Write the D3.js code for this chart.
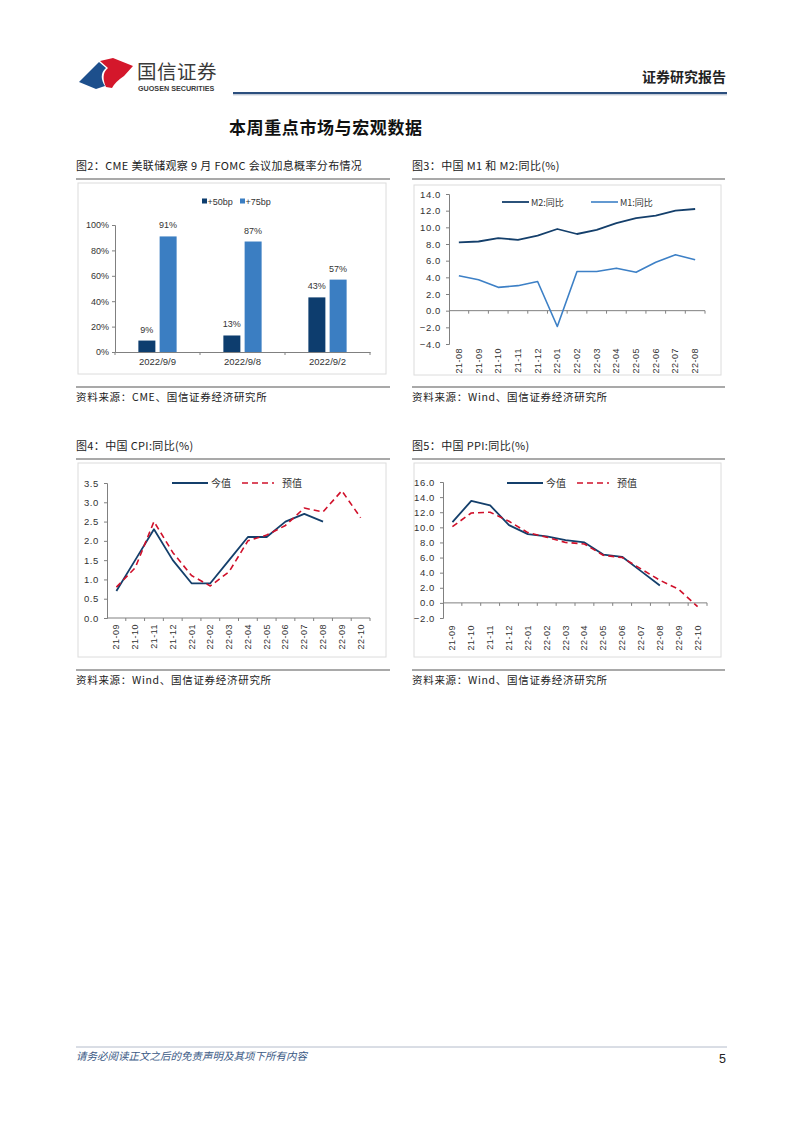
<!DOCTYPE html>
<html><head><meta charset="utf-8">
<script src="https://cdn.jsdelivr.net/npm/d3@7"></script>
<style>
body{margin:0;background:#fff;}
svg text{font-family:"Liberation Sans",Arial,sans-serif;}
.cn{font-family:"Noto Sans CJK SC","Liberation Sans",sans-serif;}
</style></head>
<body>
<svg id="page" width="802" height="1133"></svg>
<script>
// ---------------- DATA ----------------
const fomcDates = ["2022/9/9","2022/9/8","2022/9/2"];
const fomcSeries = ["+50bp","+75bp"];
const fomc50 = [9,13,43];
const fomc75 = [91,87,57];
const fomcTicks = [0,20,40,60,80,100];

const mMonths = ["21-08","21-09","21-10","21-11","21-12","22-01","22-02","22-03","22-04","22-05","22-06","22-07","22-08"];
const m2 = [8.2,8.3,8.7,8.5,9.0,9.8,9.2,9.7,10.5,11.1,11.4,12.0,12.2];
const m1 = [4.2,3.7,2.8,3.0,3.5,-1.9,4.7,4.7,5.1,4.6,5.8,6.7,6.1];
const mTicks = [-4,-2,0,2,4,6,8,10,12,14];

const pMonths = ["21-09","21-10","21-11","21-12","22-01","22-02","22-03","22-04","22-05","22-06","22-07","22-08","22-09","22-10"];
const cpiActual = [0.7,1.5,2.3,1.5,0.9,0.9,1.5,2.1,2.1,2.5,2.7,2.5];
const cpiForecast = [0.8,1.3,2.5,1.7,1.1,0.83,1.2,2.0,2.15,2.4,2.85,2.75,3.3,2.6];
const cpiTicks = [0,0.5,1,1.5,2,2.5,3,3.5];
const ppiActual = [10.7,13.5,12.9,10.3,9.1,8.8,8.3,8.0,6.4,6.1,4.2,2.3];
const ppiForecast = [10.1,11.9,12.0,10.8,9.3,8.7,8.0,7.8,6.3,6.0,4.5,3.0,1.8,-0.5];
const ppiTicks = [-2,0,2,4,6,8,10,12,14,16];

// ---------------- STYLE ----------------
const DARK = "#0d3d6e", LIGHT = "#3b7ec2";
const LINE_DARK = "#143f6b", LINE_RED = "#d0102a";
const AXIS = "#808080", TXT = "#333";
const svg = d3.select("#page");

// ---------------- HEADER ----------------
const hdr = svg.append("g");
hdr.append("path").attr("d","M79,82 L99,62 L106,68 C100,73 101,80 105,86 L96,89 Z").attr("fill","#1d4f8c");
hdr.append("path").attr("d","M100,61 L113,58 L133,66 L124,76 C118,80 114,84 112,88 L106,87 C103,80 102,73 108,68 Z").attr("fill","#d4172b");
hdr.append("text").attr("class","cn").attr("x",137).attr("y",79).attr("font-size",19.5).attr("fill","#3a3a3a").attr("letter-spacing",0.5).text("国信证券");
hdr.append("text").attr("x",138).attr("y",91).attr("font-size",7.2).attr("font-weight","bold").attr("fill","#3a3a3a").text("GUOSEN SECURITIES");
hdr.append("text").attr("class","cn").attr("x",726).attr("y",82).attr("text-anchor","end").attr("font-size",14).attr("font-weight","bold").attr("fill","#222").text("证券研究报告");
hdr.append("line").attr("x1",233).attr("x2",727).attr("y1",93).attr("y2",93).attr("stroke","#2b4f7e").attr("stroke-width",2);
hdr.append("line").attr("x1",233).attr("x2",727).attr("y1",94.8).attr("y2",94.8).attr("stroke","#aab6c6").attr("stroke-width",1);
svg.append("text").attr("class","cn").attr("x",229).attr("y",134).attr("font-size",17).attr("font-weight","bold").attr("fill","#111").attr("letter-spacing",0.6).text("本周重点市场与宏观数据");

// ---------------- HELPERS ----------------
function frame(x0,x1,titleY,title,boxTop,boxBottom,srcY,src){
  svg.append("text").attr("class","cn").attr("x",x0).attr("y",titleY).attr("font-size",11).attr("letter-spacing",0.35).attr("fill","#222").text(title);
  svg.append("line").attr("x1",x0).attr("x2",x1).attr("y1",titleY+9).attr("y2",titleY+9).attr("stroke","#8c8c8c").attr("stroke-width",1.3);
  svg.append("rect").attr("x",x0+2).attr("y",boxTop).attr("width",x1-x0-6).attr("height",boxBottom-boxTop).attr("fill","#fff").attr("stroke","#dcdcdc").attr("stroke-width",1);
  svg.append("line").attr("x1",x0).attr("x2",x1).attr("y1",srcY-10).attr("y2",srcY-10).attr("stroke","#8c8c8c").attr("stroke-width",1.3);
  svg.append("text").attr("class","cn").attr("x",x0).attr("y",srcY+4).attr("font-size",10.5).attr("letter-spacing",0.7).attr("fill","#222").text(src);
}
function styleAxis(g){
  g.selectAll("path,line").attr("stroke",AXIS).attr("stroke-width",1);
  g.selectAll("text").attr("fill",TXT).attr("font-size",9).attr("font-family","Liberation Sans, Arial, sans-serif");
}

// ---------------- CHART 2: FOMC bars ----------------
frame(76,390,170,"图2：CME 美联储观察 9 月 FOMC 会议加息概率分布情况",183,374,397,"资料来源：CME、国信证券经济研究所");
(function(){
  const x = d3.scaleBand().domain(fomcDates).range([115,370]);
  const y = d3.scaleLinear().domain([0,100]).range([352,225]);
  const inner = d3.scaleBand().domain(fomcSeries).range([0,x.bandwidth()]).paddingInner(0.2).paddingOuter(1.1);
  const g = svg.append("g");
  const ya = g.append("g").attr("transform","translate(115,0)").call(d3.axisLeft(y).tickValues(fomcTicks).tickSize(3).tickFormat(d=>d+"%"));
  styleAxis(ya);
  const xa = g.append("g").attr("transform","translate(0,352)").call(d3.axisBottom(x).tickSize(0).tickPadding(6));
  styleAxis(xa); xa.selectAll("text").attr("font-size",9.5);
  g.append("g").selectAll("line").data(fomcDates.concat(["end"])).join("line")
    .attr("x1",(d,i)=>x.range()[0]+i*x.step()).attr("x2",(d,i)=>x.range()[0]+i*x.step())
    .attr("y1",352).attr("y2",355).attr("stroke",AXIS);
  const vals = {"+50bp":fomc50,"+75bp":fomc75};
  const col = {"+50bp":DARK,"+75bp":LIGHT};
  fomcSeries.forEach(s=>{
    g.append("g").selectAll("rect").data(fomcDates).join("rect")
      .attr("x",(d)=>x(d)+inner(s)).attr("width",inner.bandwidth())
      .attr("y",(d,i)=>y(vals[s][i])).attr("height",(d,i)=>352-y(vals[s][i])).attr("fill",col[s]);
    g.append("g").selectAll("text").data(fomcDates).join("text")
      .attr("x",(d)=>x(d)+inner(s)+inner.bandwidth()/2).attr("y",(d,i)=>y(vals[s][i])-8)
      .attr("text-anchor","middle").attr("font-size",9).attr("fill",TXT).text((d,i)=>vals[s][i]+"%");
  });
  const lg = g.append("g");
  fomcSeries.forEach((s,i)=>{
    lg.append("rect").attr("x",202+i*38).attr("y",198.5).attr("width",5).attr("height",5).attr("fill",col[s]);
    lg.append("text").attr("x",207.5+i*38).attr("y",204.5).attr("font-size",9).attr("fill",TXT).text(s);
  });
})();

// ---------------- line chart helper ----------------
function lineChart(opt){
  const x = d3.scaleBand().domain(opt.cats).range([opt.x0,opt.x1]);
  const y = d3.scaleLinear().domain(opt.domain).range([opt.yBottom,opt.yTop]);
  const g = svg.append("g");
  const ya = g.append("g").attr("transform",`translate(${opt.x0},0)`).call(d3.axisLeft(y).tickValues(opt.ticks).tickSize(3).tickPadding(5).tickFormat(d3.format(".1f")));
  styleAxis(ya); ya.selectAll("text").attr("font-size",9.5).attr("letter-spacing",0.6);
  const y0 = y(0);
  const xa = g.append("g").attr("transform",`translate(0,${y0})`);
  xa.append("line").attr("x1",opt.x0).attr("x2",opt.x1).attr("y1",0).attr("y2",0).attr("stroke",AXIS);
  xa.selectAll("line.t").data(opt.cats).join("line").attr("class","t")
    .attr("x1",(d)=>x(d)+x.step()).attr("x2",(d)=>x(d)+x.step()).attr("y1",0).attr("y2",3).attr("stroke",AXIS);
  g.append("g").selectAll("text").data(opt.cats).join("text")
    .attr("transform",d=>`translate(${x(d)+x.bandwidth()/2+3},${opt.labelTop}) rotate(-90)`)
    .attr("text-anchor","end").attr("font-size",9).attr("fill",TXT).attr("letter-spacing",0.5).text(d=>d);
  const line = d3.line().x((d,i)=>x(opt.cats[i])+x.bandwidth()/2).y(d=>y(d));
  opt.series.forEach(s=>{
    g.append("path").datum(s.values).attr("d",line).attr("fill","none").attr("stroke",s.color)
      .attr("stroke-width",s.width||1.6).attr("stroke-dasharray",s.dash||null).attr("stroke-linejoin","round");
  });
  opt.legend.forEach(l=>{
    g.append("line").attr("x1",l.x).attr("x2",l.x+l.len).attr("y1",opt.legendY).attr("y2",opt.legendY)
      .attr("stroke",l.color).attr("stroke-width",l.width||1.6).attr("stroke-dasharray",l.dash||null);
    g.append("text").attr("class","cn").attr("x",l.x+l.len+(l.gap||2)).attr("y",opt.legendY+3.5).attr("font-size",l.fs||9).attr("fill",TXT).text(l.text);
  });
}

// ---------------- CHART 3: M1/M2 ----------------
frame(412,725,170,"图3：中国 M1 和 M2:同比(%)",185,375,397,"资料来源：Wind、国信证券经济研究所");
lineChart({cats:mMonths,x0:449,x1:705,domain:[-4,14],yBottom:344,yTop:194,ticks:mTicks,labelTop:348,
  series:[{values:m2,color:LINE_DARK,width:1.8},{values:m1,color:"#3d80c6",width:1.6}],
  legendY:202,legend:[{x:502,len:27,color:LINE_DARK,text:"M2:同比",width:1.8},{x:591,len:27,color:"#3d80c6",text:"M1:同比"}]});

// ---------------- CHART 4: CPI ----------------
frame(76,390,450,"图4：中国 CPI:同比(%)",463,657,680,"资料来源：Wind、国信证券经济研究所");
lineChart({cats:pMonths,x0:107,x1:370,domain:[0,3.5],yBottom:618,yTop:483,ticks:cpiTicks,labelTop:624,
  series:[{values:cpiActual,color:LINE_DARK,width:1.8},{values:cpiForecast,color:LINE_RED,width:1.6,dash:"6,4"}],
  legendY:483,legend:[{x:172,len:36,color:LINE_DARK,text:"今值",width:1.8,gap:3,fs:10},{x:242,len:32,color:LINE_RED,text:"预值",dash:"6,4",gap:8,fs:10}]});

// ---------------- CHART 5: PPI ----------------
frame(412,725,450,"图5：中国 PPI:同比(%)",463,657,680,"资料来源：Wind、国信证券经济研究所");
lineChart({cats:pMonths,x0:443,x1:707,domain:[-2,16],yBottom:618,yTop:482,ticks:ppiTicks,labelTop:625,
  series:[{values:ppiActual,color:LINE_DARK,width:1.8},{values:ppiForecast,color:LINE_RED,width:1.6,dash:"6,4"}],
  legendY:483,legend:[{x:507,len:36,color:LINE_DARK,text:"今值",width:1.8,gap:3,fs:10},{x:577,len:32,color:LINE_RED,text:"预值",dash:"6,4",gap:8,fs:10}]});

// ---------------- FOOTER ----------------
svg.append("line").attr("x1",76).attr("x2",727).attr("y1",1047).attr("y2",1047).attr("stroke","#b4bccb").attr("stroke-width",1);
svg.append("text").attr("class","cn").attr("x",76).attr("y",1060).attr("font-size",10.5).attr("font-style","italic").attr("fill","#3b5a85").text("请务必阅读正文之后的免责声明及其项下所有内容");
svg.append("text").attr("x",726).attr("y",1063).attr("text-anchor","end").attr("font-size",12.5).attr("fill","#222").text("5");
</script>
</body></html>
